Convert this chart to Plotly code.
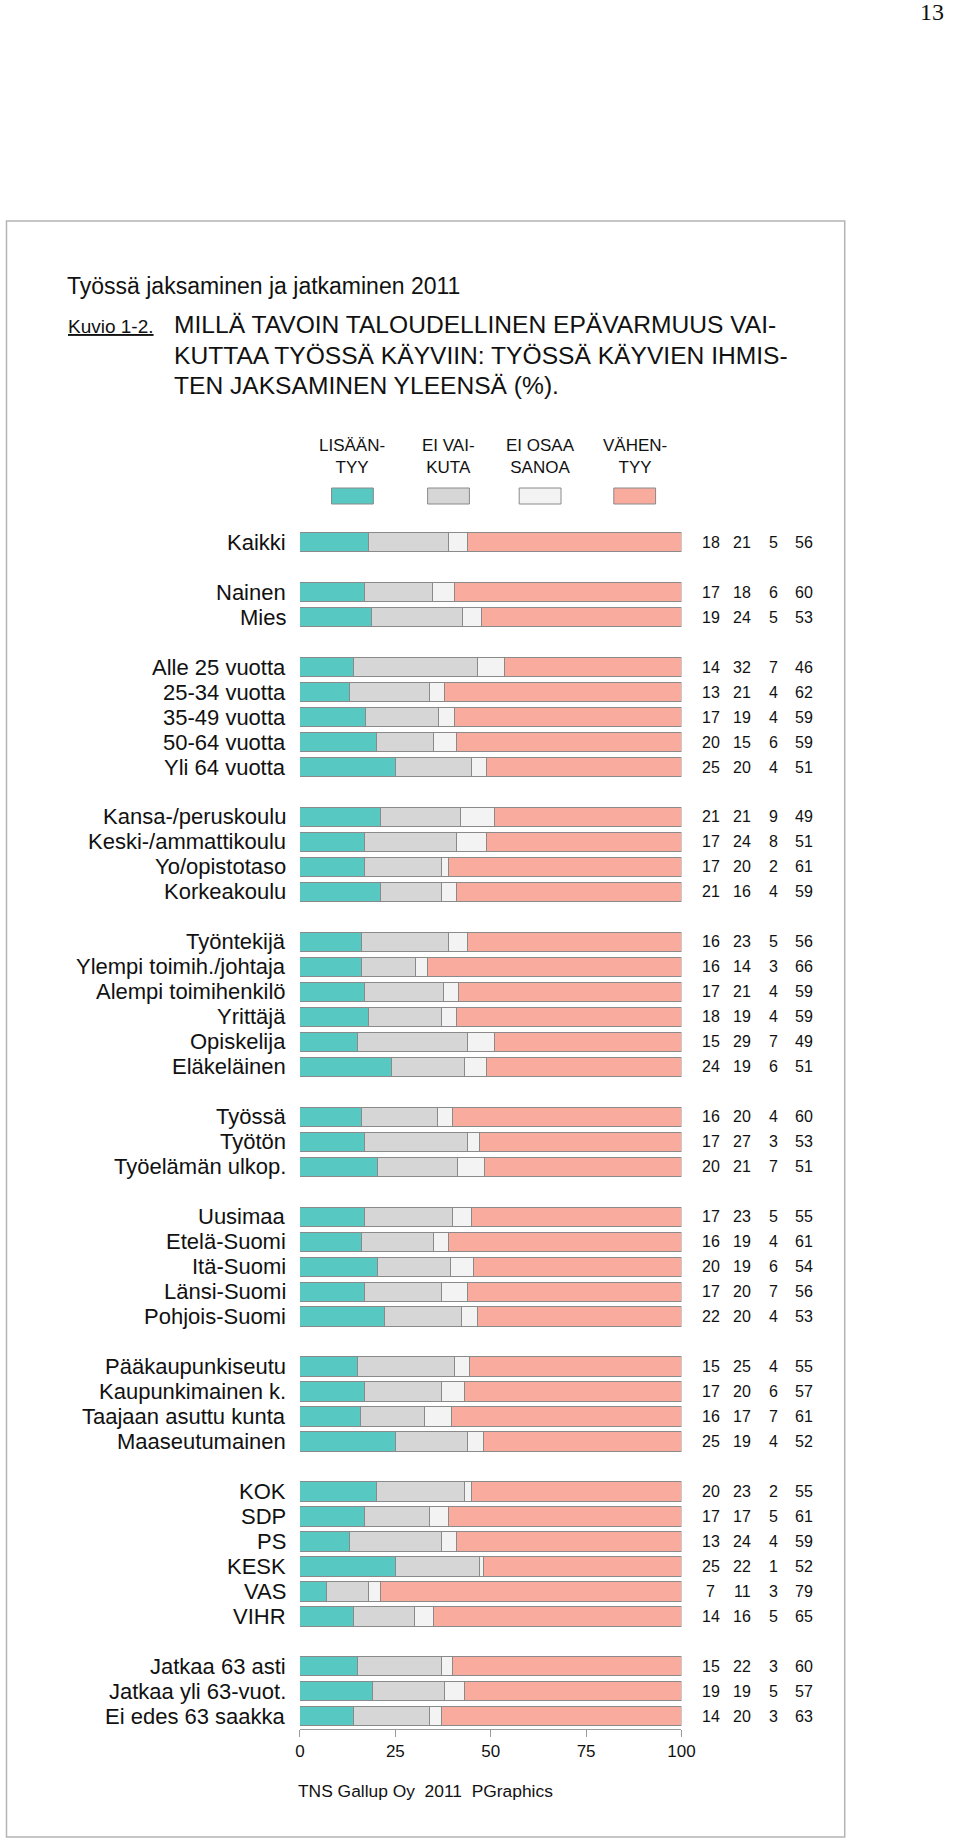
import plotly.graph_objects as go

# ---------------- data ----------------
categories = [
    "Kaikki",
    "Nainen", "Mies",
    "Alle 25 vuotta", "25-34 vuotta", "35-49 vuotta", "50-64 vuotta", "Yli 64 vuotta",
    "Kansa-/peruskoulu", "Keski-/ammattikoulu", "Yo/opistotaso", "Korkeakoulu",
    "Työntekijä", "Ylempi toimih./johtaja", "Alempi toimihenkilö", "Yrittäjä", "Opiskelija", "Eläkeläinen",
    "Työssä", "Työtön", "Työelämän ulkop.",
    "Uusimaa", "Etelä-Suomi", "Itä-Suomi", "Länsi-Suomi", "Pohjois-Suomi",
    "Pääkaupunkiseutu", "Kaupunkimainen k.", "Taajaan asuttu kunta", "Maaseutumainen",
    "KOK", "SDP", "PS", "KESK", "VAS", "VIHR",
    "Jatkaa 63 asti", "Jatkaa yli 63-vuot.", "Ei edes 63 saakka",
]
group_sizes = [1, 2, 5, 4, 6, 3, 5, 4, 6, 3]

lisaantyy = [18, 17, 19, 14, 13, 17, 20, 25, 21, 17, 17, 21, 16, 16, 17, 18, 15, 24,
             16, 17, 20, 17, 16, 20, 17, 22, 15, 17, 16, 25, 20, 17, 13, 25, 7, 14, 15, 19, 14]
ei_vaikuta = [21, 18, 24, 32, 21, 19, 15, 20, 21, 24, 20, 16, 23, 14, 21, 19, 29, 19,
              20, 27, 21, 23, 19, 19, 20, 20, 25, 20, 17, 19, 23, 17, 24, 22, 11, 16, 22, 19, 20]
ei_osaa = [5, 6, 5, 7, 4, 4, 6, 4, 9, 8, 2, 4, 5, 3, 4, 4, 7, 6,
           4, 3, 7, 5, 4, 6, 7, 4, 4, 6, 7, 4, 2, 5, 4, 1, 3, 5, 3, 5, 3]
vahentyy = [56, 60, 53, 46, 62, 59, 59, 51, 49, 51, 61, 59, 56, 66, 59, 59, 49, 51,
            60, 53, 51, 55, 61, 54, 56, 53, 55, 57, 61, 52, 55, 61, 59, 52, 79, 65, 60, 57, 63]

series_names = ["LISÄÄN-<br>TYY", "EI VAI-<br>KUTA", "EI OSAA<br>SANOA", "VÄHEN-<br>TYY"]
series_colors = ["#58C8C3", "#D6D6D6", "#F3F3F3", "#F9AC9D"]
x_ticks = [0, 25, 50, 75, 100]

# ---------------- layout helpers ----------------
W, H = 960, 1840
KX = 0.9846  # observed horizontal scale of the captured page
FONT = "Liberation Sans, Arial, Helvetica, sans-serif"


def X(px):
    """target pixel x -> paper fraction"""
    return min(px / KX, W - 0.5) / W


slots = []
idx = 0
for g, n in enumerate(group_sizes):
    for _ in range(n):
        slots.append(idx)
        idx += 1
    idx += 1
n_slots = slots[-1] + 1

series = [lisaantyy, ei_vaikuta, ei_osaa, vahentyy]
totals = [sum(s[i] for s in series) for i in range(len(categories))]

fig = go.Figure()
for name, col, vals in zip(series_names, series_colors, series):
    fig.add_trace(go.Bar(
        x=[v / t * 100 for v, t in zip(vals, totals)],
        y=slots,
        orientation="h",
        width=0.77,
        name=name.replace("<br>", ""),
        marker=dict(color=col, line=dict(color="#8A8A8A", width=1)),
        hoverinfo="skip",
        showlegend=False,
    ))

x_left, x_right = 296.3, 679.5
top_px, bot_px = 529.7, 1728.8

ann = []
for cat, s in zip(categories, slots):
    ann.append(dict(x=X(284.5), xref="paper", y=s, yref="y", text=cat, showarrow=False,
                    xanchor="right", yanchor="middle", font=dict(size=22, color="#111", family=FONT)))
num_cols = [709, 740.5, 772, 802.5]
for vals, cx in zip(series, num_cols):
    for v, s in zip(vals, slots):
        ann.append(dict(x=X(cx), xref="paper", y=s, yref="y", text=str(v), showarrow=False,
                        xanchor="center", yanchor="middle", font=dict(size=16, color="#111", family=FONT)))


def pt(x, y, text, size, anchor="left", family=FONT, color="#111"):
    ann.append(dict(x=X(x), xref="paper", y=1 - y / H, yref="paper", text=text, showarrow=False,
                    xanchor=anchor, yanchor="middle", font=dict(size=size, color=color, family=family)))


pt(957, 12, "13", 24, anchor="right", family="Liberation Serif, Times New Roman, serif")
pt(60, 286, "Työssä jaksaminen ja jatkaminen 2011", 23)
pt(61, 326, "<u>Kuvio 1-2.</u>", 19)
pt(168, 325, "MILLÄ TAVOIN TALOUDELLINEN EPÄVARMUUS VAI-", 24.6)
pt(168, 355.5, "KUTTAA TYÖSSÄ KÄYVIIN: TYÖSSÄ KÄYVIEN IHMIS-", 24.6)
pt(168, 385, "TEN JAKSAMINEN YLEENSÄ (%).", 24.6)
pt(292, 1791, "TNS Gallup Oy  2011  PGraphics", 17.4, anchor="left")

leg_centers = [349, 445.5, 537.5, 632.5]
shapes = []
for lab, col, cx in zip(series_names, series_colors, leg_centers):
    ann.append(dict(x=X(cx), xref="paper", y=1 - 456 / H, yref="paper", text=lab, showarrow=False,
                    xanchor="center", yanchor="middle", align="center",
                    font=dict(size=17, color="#111", family=FONT)))
    shapes.append(dict(type="rect", xref="paper", yref="paper",
                       x0=X(cx - 21), x1=X(cx + 21), y0=1 - 504 / H, y1=1 - 488 / H,
                       fillcolor=col, line=dict(color="#8A8A8A", width=1)))

shapes.append(dict(type="rect", xref="paper", yref="paper", x0=X(1.5), x1=X(843.5),
                   y0=1 - 1837 / H, y1=1 - 221 / H, line=dict(color="#B4B4B4", width=1.5),
                   fillcolor="rgba(0,0,0,0)", layer="below"))

fig.update_layout(
    width=W, height=H, autosize=False,
    margin=dict(l=0, r=0, t=0, b=0),
    paper_bgcolor="white", plot_bgcolor="white",
    barmode="stack", bargap=0,
    font=dict(family=FONT, color="#111"),
    annotations=ann, shapes=shapes,
    xaxis=dict(domain=[X(x_left), X(x_right)], range=[0, 100], tickvals=x_ticks,
               ticktext=[str(t) for t in x_ticks], showgrid=False, zeroline=False,
               showline=True, linecolor="#9A9A9A", linewidth=1, ticks="outside",
               ticklen=7, tickcolor="#9A9A9A", tickfont=dict(size=17, color="#111", family=FONT),
               fixedrange=True),
    yaxis=dict(domain=[1 - bot_px / H, 1 - top_px / H], range=[n_slots - 0.5, -0.5],
               showticklabels=False, showgrid=False, zeroline=False, showline=False,
               ticks="", fixedrange=True),
)

fig.write_html(
    "out.html",
    config={"displayModeBar": False, "staticPlot": True},
    post_script=("document.body.style.margin='0px';"
                 "document.body.style.overflow='hidden';"
                 "document.documentElement.style.overflow='hidden';"),
)
